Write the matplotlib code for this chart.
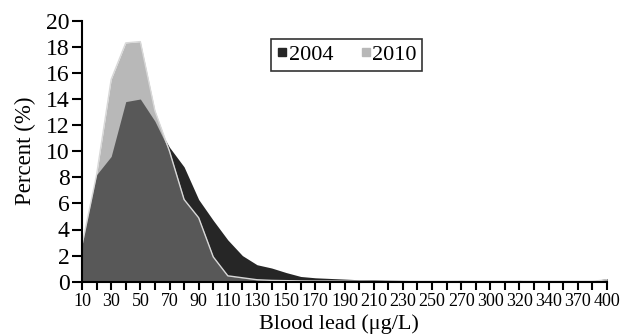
import matplotlib
matplotlib.use("Agg")
import matplotlib.pyplot as plt
from matplotlib.lines import Line2D
import numpy as np

categories = [10, 20, 30, 40, 50, 60, 70, 80, 90, 100, 110, 120, 130, 140, 150,
              160, 170, 180, 190, 200, 210, 220, 230, 240, 250, 260, 270, 280,
              300, 310, 320, 330, 340, 350, 370, 380, 400]
pct_2004 = [2.9, 8.2, 9.6, 13.8, 14.0, 12.3, 10.3, 8.8, 6.3, 4.7, 3.2, 2.0, 1.3,
            1.05, 0.7, 0.4, 0.3, 0.25, 0.2, 0.15, 0.15, 0.12, 0.1, 0.08, 0.08,
            0.07, 0.1, 0.07, 0.06, 0.06, 0.1, 0.06, 0.06, 0.05, 0.06, 0.05, 0.25]
pct_2010 = [2.8, 8.2, 15.5, 18.3, 18.4, 13.1, 10.0, 6.3, 4.9, 1.9, 0.45, 0.3,
            0.15, 0.1, 0.08, 0.06, 0.05, 0.05, 0.04, 0.04, 0.03, 0.03, 0.03,
            0.03, 0.03, 0.03, 0.04, 0.03, 0.03, 0.03, 0.04, 0.03, 0.03, 0.03,
            0.03, 0.03, 0.15]
series_names = ["2004", "2010"]
yticks = list(range(0, 21, 2))

c2004 = "#262626"
c2010 = "#b8b8b8"
coverlap = "#585858"

plt.rcParams["font.family"] = ["Liberation Serif", "DejaVu Serif"]

fig = plt.figure(figsize=(6.22, 3.35), dpi=100)
ax = fig.add_axes([82 / 622, 1 - 281.7 / 335, (607 - 82) / 622, (281.7 - 20.7) / 335])

x = np.arange(len(categories))
a = np.array(pct_2004)
b = np.array(pct_2010)

ax.fill_between(x, 0, a, color=c2004, linewidth=0, zorder=1)
ax.fill_between(x, 0, b, color=c2010, linewidth=0, zorder=2)
ax.fill_between(x, 0, np.minimum(a, b), color=coverlap, linewidth=0, zorder=3)
ax.plot(x, b, color="#d8d8d8", linewidth=1.0, zorder=4)

ax.set_xlim(0, len(categories) - 1)
ax.set_ylim(0, 20)
ax.set_yticks(yticks)
ax.set_yticklabels([str(v) for v in yticks])
ax.set_xticks(x)
ax.set_xticklabels([str(c) if i % 2 == 0 else "" for i, c in enumerate(categories)])
ax.tick_params(axis="y", direction="out", length=7, width=1.5, pad=2, labelsize=17)
ax.tick_params(axis="x", direction="out", length=6, width=1.5, pad=2, labelsize=13)

for s in ["top", "right"]:
    ax.spines[s].set_visible(False)
for s in ["left", "bottom"]:
    ax.spines[s].set_linewidth(1.5)
    ax.spines[s].set_zorder(5)

ax.set_ylabel("Percent (%)", fontsize=16.5, labelpad=7)
ax.set_xlabel("Blood lead (μg/L)", fontsize=16)
ax.xaxis.set_label_coords(0.49, -0.125)
ax.xaxis.label.set_verticalalignment("top")

handles = [Line2D([], [], linestyle="none", marker="s", markersize=6, color=c2004),
           Line2D([], [], linestyle="none", marker="s", markersize=6, color=c2010)]
leg = ax.legend(handles, series_names, loc="upper left", bbox_to_anchor=(0.36, 0.93),
                ncol=2, fontsize=16, frameon=True, fancybox=False, handlelength=0.5,
                handletextpad=0.05, columnspacing=1.2, borderpad=0.25,
                borderaxespad=0)
leg.get_frame().set_edgecolor("black")
leg.get_frame().set_linewidth(1.2)

fig.savefig("out.png", dpi=100)
